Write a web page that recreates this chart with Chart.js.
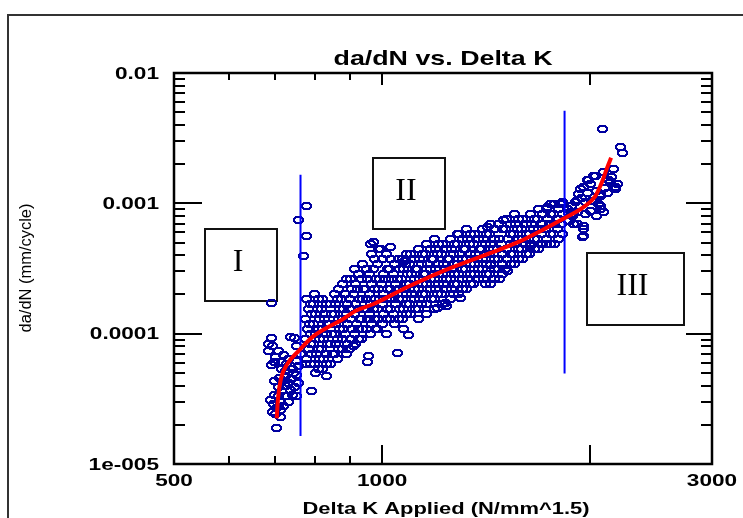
<!DOCTYPE html>
<html>
<head>
<meta charset="utf-8">
<script src="https://cdn.jsdelivr.net/npm/chart.js@4.4.0/dist/chart.umd.min.js"></script>
<style>
  html, body { margin: 0; padding: 0; background: #fff; }
  canvas { display: block; }
</style>
</head>
<body>
<canvas id="crackChart" width="743" height="518"></canvas>
<script>
// Delta K (N/mm^1.5) and da/dN (mm/cycle) measurements, grouped by stage
const stageOnePoints = [
  [692, 9.2e-5], [694, 8.1e-5], [738, 9.4e-5], [746, 9.2e-5], [751, 8.1e-5],
  [707, 7.3e-5], [719, 6.8e-5], [731, 6.4e-5], [699, 6.1e-5], [692, 5.7e-5],
  [716, 5.4e-5], [741, 5.4e-5], [751, 4.8e-5], [699, 4.3e-5], [724, 4.0e-5],
  [738, 3.7e-5], [751, 3.3e-5], [699, 3.4e-5], [714, 3.0e-5], [731, 3.0e-5],
  [704, 2.7e-5], [694, 2.5e-5], [714, 2.3e-5], [704, 1.9e-5], [724, 5.2e-5],
  [738, 4.5e-5], [758, 4.2e-5], [716, 3.6e-5], [686, 8.4e-5], [686, 7.4e-5],
  [716, 6.1e-5], [753, 6.2e-5], [761, 7.0e-5], [726, 4.7e-5], [707, 3.9e-5],
  [743, 3.4e-5], [721, 2.8e-5], [697, 2.9e-5], [702, 6.6e-5], [728, 5.8e-5],
  [745, 5.0e-5], [733, 4.2e-5], [710, 4.6e-5], [747, 3.9e-5], [725, 3.3e-5],
  [708, 3.3e-5], [690, 3.1e-5], [700, 2.4e-5], [712, 2.6e-5], [757, 5.6e-5],
  [692, 1.72e-4], [778, 9.49e-4], [758, 7.42e-4], [778, 5.6e-4], [770, 3.94e-4]
];

const stageTwoPoints = [
  [778, 1.85e-4], [782, 1.55e-4], [775, 1.30e-4], [780, 1.09e-4], [776, 9.16e-5], [783, 7.68e-5], [778, 6.44e-5], [774, 5.9e-5],
  [799, 2.02e-4], [795, 1.69e-4], [802, 1.42e-4], [797, 1.19e-4], [801, 1.0e-4], [796, 8.39e-5], [803, 7.04e-5], [798, 5.9e-5], [800, 4.95e-5],
  [821, 1.85e-4], [818, 1.55e-4], [824, 1.30e-4], [820, 1.09e-4], [823, 9.16e-5], [817, 7.68e-5], [822, 6.44e-5], [819, 5.4e-5],
  [843, 1.69e-4], [846, 1.42e-4], [840, 1.19e-4], [845, 1.0e-4], [842, 8.39e-5], [847, 7.04e-5], [841, 5.9e-5],
  [865, 2.21e-4], [862, 1.85e-4], [868, 1.55e-4], [864, 1.3e-4], [867, 1.09e-4], [861, 9.16e-5], [866, 7.68e-5], [863, 6.44e-5],
  [889, 2.63e-4], [886, 2.02e-4], [892, 1.69e-4], [888, 1.42e-4], [891, 1.19e-4], [885, 1.0e-4], [890, 8.39e-5], [887, 7.04e-5],
  [913, 3.13e-4], [916, 2.41e-4], [910, 2.02e-4], [914, 1.69e-4], [911, 1.42e-4], [917, 1.19e-4], [912, 1.0e-4], [915, 8.39e-5],
  [937, 3.42e-4], [934, 2.63e-4], [940, 2.21e-4], [936, 1.85e-4], [939, 1.55e-4], [933, 1.3e-4], [938, 1.09e-4], [935, 9.16e-5],
  [962, 4.86e-4], [966, 4.08e-4], [960, 2.87e-4], [964, 2.41e-4], [958, 2.02e-4], [963, 1.69e-4], [959, 1.42e-4], [965, 1.19e-4], [961, 1.0e-4],
  [988, 4.45e-4], [985, 3.42e-4], [991, 2.63e-4], [987, 2.21e-4], [990, 1.85e-4], [984, 1.55e-4], [989, 1.3e-4], [986, 1.09e-4],
  [1015, 4.08e-4], [1019, 3.13e-4], [1012, 2.63e-4], [1017, 2.21e-4], [1013, 1.85e-4], [1018, 1.55e-4], [1014, 1.3e-4], [1016, 1.0e-4],
  [1042, 3.42e-4], [1038, 2.87e-4], [1045, 2.41e-4], [1040, 2.02e-4], [1044, 1.69e-4], [1039, 1.42e-4], [1043, 1.19e-4],
  [1071, 3.74e-4], [1075, 3.13e-4], [1068, 2.63e-4], [1073, 2.21e-4], [1069, 1.85e-4], [1074, 1.55e-4], [1070, 1.3e-4], [1072, 1.09e-4],
  [1099, 4.08e-4], [1095, 3.42e-4], [1102, 2.87e-4], [1097, 2.41e-4], [1101, 2.02e-4], [1096, 1.69e-4], [1100, 1.42e-4],
  [1129, 4.45e-4], [1133, 3.74e-4], [1126, 3.13e-4], [1131, 2.63e-4], [1127, 2.21e-4], [1132, 1.85e-4], [1128, 1.55e-4], [1130, 1.3e-4],
  [1159, 4.86e-4], [1155, 4.08e-4], [1162, 3.42e-4], [1157, 2.87e-4], [1161, 2.41e-4], [1156, 2.02e-4], [1160, 1.69e-4], [1158, 1.42e-4],
  [1191, 5.31e-4], [1195, 4.45e-4], [1188, 3.74e-4], [1193, 3.13e-4], [1189, 2.63e-4], [1194, 2.21e-4], [1190, 1.85e-4], [1192, 1.55e-4],
  [1223, 4.86e-4], [1219, 4.08e-4], [1226, 3.42e-4], [1221, 2.87e-4], [1225, 2.41e-4], [1220, 2.02e-4], [1224, 1.69e-4],
  [1256, 5.31e-4], [1260, 4.45e-4], [1253, 3.74e-4], [1258, 3.13e-4], [1254, 2.63e-4], [1259, 2.21e-4], [1255, 1.85e-4],
  [1289, 5.8e-4], [1285, 4.86e-4], [1292, 4.08e-4], [1287, 3.42e-4], [1291, 2.87e-4], [1286, 2.41e-4], [1290, 2.02e-4],
  [1324, 6.33e-4], [1328, 5.31e-4], [1321, 4.45e-4], [1326, 3.74e-4], [1322, 3.13e-4], [1327, 2.63e-4], [1323, 2.21e-4],
  [1360, 5.8e-4], [1356, 4.86e-4], [1363, 4.08e-4], [1358, 3.42e-4], [1362, 2.87e-4], [1357, 2.41e-4],
  [1397, 6.33e-4], [1401, 5.31e-4], [1394, 4.45e-4], [1399, 3.74e-4], [1395, 3.13e-4], [1400, 2.63e-4],
  [1434, 6.91e-4], [1430, 5.8e-4], [1437, 4.86e-4], [1432, 4.08e-4], [1436, 3.42e-4], [1431, 2.87e-4], [1435, 2.41e-4],
  [1473, 6.91e-4], [1477, 5.31e-4], [1470, 4.45e-4], [1475, 3.74e-4], [1471, 3.13e-4], [1476, 2.63e-4],
  [1513, 7.55e-4], [1509, 6.33e-4], [1516, 5.31e-4], [1511, 4.45e-4], [1515, 3.74e-4], [1510, 3.13e-4],
  [1553, 8.24e-4], [1557, 6.91e-4], [1550, 5.8e-4], [1555, 4.86e-4], [1551, 4.08e-4], [1556, 3.42e-4],
  [1595, 7.55e-4], [1591, 6.33e-4], [1598, 5.31e-4], [1593, 4.45e-4], [1597, 3.74e-4],
  [1638, 8.24e-4], [1642, 6.91e-4], [1635, 5.8e-4], [1640, 4.86e-4], [1636, 4.08e-4],
  [1682, 9.0e-4], [1678, 7.55e-4], [1685, 6.33e-4], [1680, 5.31e-4], [1684, 4.45e-4],
  [1728, 9.0e-4], [1732, 7.55e-4], [1725, 6.33e-4], [1730, 5.31e-4], [1726, 4.86e-4],
  [1774, 9.83e-4], [1770, 8.24e-4], [1777, 6.91e-4], [1772, 5.8e-4], [1776, 4.86e-4],
  [1822, 9.83e-4], [1826, 8.24e-4], [1819, 6.91e-4], [1824, 5.8e-4],
  // readings between the columns above
  [788, 1.69e-4], [791, 1.42e-4], [786, 1.19e-4], [789, 1.0e-4], [787, 8.39e-5], [790, 7.04e-5], [788, 5.9e-5],
  [810, 1.85e-4], [807, 1.55e-4], [812, 1.3e-4], [809, 1.09e-4], [811, 9.16e-5], [808, 7.68e-5], [813, 6.44e-5], [810, 5.4e-5],
  [832, 1.69e-4], [829, 1.42e-4], [834, 1.19e-4], [831, 1.0e-4], [833, 8.39e-5], [830, 7.04e-5], [832, 5.9e-5],
  [854, 2.02e-4], [857, 1.69e-4], [852, 1.42e-4], [855, 1.19e-4], [853, 1.0e-4], [856, 8.39e-5], [854, 7.04e-5],
  [877, 2.41e-4], [874, 1.85e-4], [879, 1.55e-4], [876, 1.3e-4], [878, 1.09e-4], [875, 9.16e-5], [877, 7.68e-5],
  [900, 2.63e-4], [903, 2.21e-4], [898, 1.85e-4], [901, 1.55e-4], [899, 1.3e-4], [902, 1.09e-4], [900, 9.16e-5], [897, 7.68e-5],
  [925, 2.87e-4], [922, 2.21e-4], [927, 1.85e-4], [924, 1.55e-4], [926, 1.3e-4], [923, 1.09e-4], [925, 9.16e-5],
  [949, 3.13e-4], [952, 2.63e-4], [947, 2.21e-4], [950, 1.85e-4], [948, 1.55e-4], [951, 1.3e-4], [949, 1.09e-4],
  [975, 3.74e-4], [972, 3.13e-4], [977, 2.63e-4], [974, 2.21e-4], [976, 1.85e-4], [973, 1.55e-4], [975, 1.3e-4], [978, 1.09e-4],
  [1002, 3.74e-4], [1005, 2.87e-4], [999, 2.41e-4], [1003, 2.02e-4], [1000, 1.69e-4], [1004, 1.42e-4], [1001, 1.19e-4],
  [1029, 3.74e-4], [1026, 3.13e-4], [1031, 2.63e-4], [1028, 2.21e-4], [1030, 1.85e-4], [1027, 1.55e-4], [1029, 1.3e-4],
  [1056, 3.74e-4], [1059, 3.13e-4], [1054, 2.63e-4], [1057, 2.21e-4], [1055, 1.85e-4], [1058, 1.55e-4], [1056, 1.3e-4],
  [1085, 4.08e-4], [1082, 3.42e-4], [1087, 2.87e-4], [1084, 2.41e-4], [1086, 2.02e-4], [1083, 1.69e-4], [1085, 1.42e-4],
  [1114, 3.74e-4], [1117, 3.13e-4], [1112, 2.63e-4], [1115, 2.21e-4], [1113, 1.85e-4], [1116, 1.55e-4],
  [1144, 4.08e-4], [1141, 3.42e-4], [1146, 2.87e-4], [1143, 2.41e-4], [1145, 2.02e-4], [1142, 1.69e-4],
  [1175, 4.45e-4], [1178, 3.74e-4], [1173, 3.13e-4], [1176, 2.63e-4], [1174, 2.21e-4], [1177, 1.85e-4],
  [1206, 4.86e-4], [1203, 4.08e-4], [1208, 3.42e-4], [1205, 2.87e-4], [1207, 2.41e-4], [1204, 2.02e-4],
  [1239, 4.45e-4], [1242, 3.74e-4], [1237, 3.13e-4], [1240, 2.63e-4], [1238, 2.21e-4],
  [1272, 4.86e-4], [1269, 4.08e-4], [1274, 3.42e-4], [1271, 2.87e-4], [1273, 2.41e-4], [1270, 2.02e-4],
  [1307, 5.31e-4], [1310, 4.45e-4], [1305, 3.74e-4], [1308, 3.13e-4], [1306, 2.63e-4], [1309, 2.21e-4],
  [1342, 5.8e-4], [1339, 4.86e-4], [1344, 4.08e-4], [1341, 3.42e-4], [1343, 2.87e-4], [1340, 2.41e-4],
  [1378, 5.31e-4], [1381, 4.45e-4], [1376, 3.74e-4], [1379, 3.13e-4], [1377, 2.63e-4],
  [1415, 5.8e-4], [1412, 4.86e-4], [1417, 4.08e-4], [1414, 3.42e-4], [1416, 2.87e-4],
  [1453, 6.33e-4], [1456, 5.31e-4], [1451, 4.45e-4], [1454, 3.74e-4], [1452, 3.13e-4], [1455, 2.63e-4],
  [1492, 6.33e-4], [1489, 4.86e-4], [1494, 4.08e-4], [1491, 3.42e-4], [1493, 2.87e-4],
  [1533, 6.91e-4], [1536, 5.8e-4], [1531, 4.86e-4], [1534, 4.08e-4], [1532, 3.42e-4],
  [1574, 7.55e-4], [1571, 6.33e-4], [1576, 5.31e-4], [1573, 4.45e-4], [1575, 3.74e-4],
  [1616, 6.91e-4], [1619, 5.8e-4], [1614, 4.86e-4], [1617, 4.08e-4],
  [1660, 7.55e-4], [1657, 6.33e-4], [1662, 5.31e-4], [1659, 4.45e-4],
  [1705, 8.24e-4], [1708, 6.91e-4], [1703, 5.8e-4], [1706, 4.86e-4],
  [1751, 8.24e-4], [1748, 6.91e-4], [1753, 5.8e-4], [1750, 4.86e-4],
  [1798, 9.0e-4], [1801, 7.55e-4], [1796, 6.33e-4], [1799, 5.31e-4],
  // scattered readings around the band
  [1053, 7.16e-5], [956, 6.79e-5], [953, 6.11e-5], [910, 8.1e-5], [1092, 9.83e-5],
  [1202, 1.58e-4], [1239, 1.63e-4], [1298, 1.88e-4], [1235, 1.72e-4], [1518, 3.03e-4],
  [1410, 2.41e-4], [1434, 3.37e-4], [1638, 4.7e-4], [1693, 4.86e-4], [1733, 9.32e-4],
  [1497, 7.42e-4], [1420, 6.56e-4], [1285, 5.8e-4], [972, 5.04e-4], [995, 4.45e-4],
  [1029, 4.61e-4], [1077, 3.61e-4], [790, 3.6e-5], [832, 4.7e-5]
];

const stageThreePoints = [
  [2081, 3.74e-3], [2209, 2.72e-3], [2224, 2.45e-3], [2158, 1.82e-3], [2088, 1.75e-3],
  [2033, 1.61e-3], [1987, 1.52e-3], [1953, 1.33e-3], [2137, 1.47e-3], [2173, 1.33e-3],
  [1921, 1.17e-3], [2067, 1.17e-3], [2053, 9.83e-4], [2088, 8.54e-4], [2067, 9.0e-4],
  [1967, 8.24e-4], [1902, 1.02e-3], [1915, 6.91e-4], [1953, 6.33e-4], [1947, 5.5e-4],
  [1751, 9.83e-4], [1810, 9.83e-4], [1890, 8.24e-4], [1980, 1.52e-3], [2020, 1.61e-3],
  [2123, 1.52e-3], [2173, 1.28e-3], [1934, 1.28e-3], [1980, 1.21e-3], [2067, 1.13e-3],
  [1915, 1.07e-3], [1967, 1.02e-3], [2067, 9.49e-4], [1915, 8.54e-4], [1890, 6.91e-4],
  [1953, 6.67e-4], [1953, 5.6e-4], [1852, 9.0e-4], [1884, 7.96e-4], [1858, 7.29e-4],
  [1822, 1.02e-3], [2000, 1.4e-3], [2100, 1.3e-3], [2040, 1.25e-3], [1940, 1.1e-3],
  [2010, 1.05e-3], [2120, 1.2e-3], [2000, 8.8e-4], [2040, 8.0e-4], [1880, 9.5e-4],
  [1860, 8.5e-4], [2150, 1.6e-3], [2190, 1.4e-3]
];

// fitted growth curve
const fitK = [704, 707, 714, 730, 758, 794, 837, 871, 916, 972, 1088, 1215, 1420, 1585, 1693, 1822, 1953, 2033, 2081, 2116, 2144];
const fitRate = [2.24e-5, 3.19e-5, 4.53e-5, 5.9e-5, 7.42e-5, 9.49e-5, 1.13e-4, 1.26e-4, 1.5e-4, 1.69e-4, 2.28e-4,
  2.97e-4, 4.08e-4, 5.13e-4, 6.11e-4, 7.55e-4, 9.32e-4, 1.13e-3, 1.47e-3, 1.88e-3, 2.24e-3];

// stage boundaries (vertical lines)
const boundaryK = [762, 1836];
const boundaryTop = [1.66e-3, 5.13e-3];
const boundaryBottom = [1.64e-5, 4.95e-5];

// stage label boxes, corners in data units
const stageNames = ["I", "II", "III"];
const stageBoxK = [[554, 704], [969, 1231], [1980, 2733]];
const stageBoxRate = [[6.33e-4, 1.79e-4], [2.24e-3, 6.33e-4], [4.15e-4, 1.17e-4]];

// axis ticks
const xLabelValues = [500, 1000, 3000];
const xMajorTicks = [1000, 2000];
const xMinorTicks = [600, 700, 800, 900];
const yLabelValues = [1e-2, 1e-3, 1e-4, 1e-5];
const yLabelTexts = ["0.01", "0.001", "0.0001", "1e-005"];
const yDecades = [1e-5, 1e-4, 1e-3];
const yMinorSteps = [2, 3, 4, 5, 6, 7, 8, 9];

const toXY = (p) => ({ x: p[0], y: p[1] });

/*open ellipse marker, drawn pixel by pixel*/
const ringRows = [
  "..XXXXXXX..",
  ".XXXXXXXXX.",
  "XXX.....XXX",
  "XX.......XX",
  "XX.......XX",
  "XXX.....XXX",
  ".XXXXXXXXX.",
  "..XXXXXXX..",
];
const ring = document.createElement("canvas");
ring.width = 11;
ring.height = 8;
const rc = ring.getContext("2d");
rc.fillStyle = "#0000a0";
ringRows.forEach((row, r) => {
  for (let c = 0; c < row.length; c++) {
    if (row[c] === "X") rc.fillRect(c, r, 1, 1);
  }
});

function scaledText(ctx, str, x, y, font, sx, align, baseline) {
  ctx.save();
  ctx.font = font;
  ctx.textAlign = align;
  ctx.textBaseline = baseline;
  ctx.translate(x, y);
  ctx.scale(sx, 1);
  ctx.fillText(str, 0, 0);
  ctx.restore();
}

function fitText(ctx, str, x, y, font, width) {
  ctx.save();
  ctx.font = font;
  const w = ctx.measureText(str).width;
  scaledText(ctx, str, x, y, font, width / w, "center", "alphabetic");
  ctx.restore();
}

/*stage boxes behind the data*/
const stageBoxes = {
  id: "stageBoxes",
  beforeDatasetsDraw(chart) {
    const ctx = chart.ctx;
    const xs = chart.scales.x;
    const ys = chart.scales.y;
    ctx.save();
    stageNames.forEach((name, i) => {
      const x1 = Math.round(xs.getPixelForValue(stageBoxK[i][0]));
      const x2 = Math.round(xs.getPixelForValue(stageBoxK[i][1]));
      const y1 = Math.round(ys.getPixelForValue(stageBoxRate[i][0]));
      const y2 = Math.round(ys.getPixelForValue(stageBoxRate[i][1]));
      ctx.fillStyle = "#fff";
      ctx.fillRect(x1, y1, x2 - x1, y2 - y1);
      ctx.strokeStyle = "#111";
      ctx.lineWidth = 2;
      ctx.strokeRect(x1, y1, x2 - x1, y2 - y1);
      ctx.fillStyle = "#000";
      ctx.font = '32px "Liberation Serif"';
      ctx.textAlign = "center";
      ctx.textBaseline = "middle";
      ctx.fillText(name, (x1 + x2) / 2 - 3, (y1 + y2) / 2 - 2);
    });
    ctx.restore();
    // keep the markers crisp
    ctx.imageSmoothingEnabled = false;
  },
  afterDatasetsDraw(chart) {
    chart.ctx.imageSmoothingEnabled = true;
  },
};

/*frame, inward ticks, labels and titles*/
const axesFrame = {
  id: "axesFrame",
  afterDraw(chart) {
    const ctx = chart.ctx;
    const a = chart.chartArea;
    const xs = chart.scales.x;
    const ys = chart.scales.y;
    ctx.save();

    // outer border
    ctx.strokeStyle = "#333";
    ctx.lineWidth = 2;
    ctx.beginPath();
    ctx.moveTo(8, 518);
    ctx.lineTo(8, 15);
    ctx.lineTo(743, 15);
    ctx.stroke();

    ctx.strokeStyle = "#000";
    ctx.lineWidth = 2.5;
    ctx.strokeRect(a.left, a.top, a.right - a.left, a.bottom - a.top);

    ctx.lineWidth = 2;
    ctx.beginPath();
    const vTick = (v, major) => {
      const px = Math.round(xs.getPixelForValue(v));
      ctx.moveTo(px, a.bottom);
      ctx.lineTo(px, a.bottom - (major ? 19 : 8));
      ctx.moveTo(px, a.top);
      ctx.lineTo(px, a.top + (major ? 12 : 7));
    };
    xMajorTicks.forEach((v) => vTick(v, true));
    xMinorTicks.forEach((v) => vTick(v, false));
    const hTick = (v, major) => {
      const py = Math.round(ys.getPixelForValue(v));
      ctx.moveTo(a.left, py);
      ctx.lineTo(a.left + (major ? 28 : 11), py);
      ctx.moveTo(a.right, py);
      ctx.lineTo(a.right - (major ? 26 : 11), py);
    };
    yLabelValues.forEach((v) => hTick(v, true));
    yDecades.forEach((d) => yMinorSteps.forEach((m) => hTick(d * m, false)));
    ctx.stroke();

    ctx.fillStyle = "#000";
    const tickFont = 'bold 17px "Liberation Sans"';
    yLabelValues.forEach((v, i) => {
      scaledText(ctx, yLabelTexts[i], a.left - 15, ys.getPixelForValue(v) + 1, tickFont, 1.33, "right", "middle");
    });
    xLabelValues.forEach((v) => {
      scaledText(ctx, String(v), xs.getPixelForValue(v), a.bottom + 17, tickFont, 1.33, "center", "middle");
    });

    fitText(ctx, "da/dN vs. Delta K", 443, 65, 'bold 21px "Liberation Sans"', 219);
    fitText(ctx, "Delta K Applied (N/mm^1.5)", 446, 514, 'bold 17px "Liberation Sans"', 287);

    ctx.save();
    ctx.translate(31, 268);
    ctx.rotate(-Math.PI / 2);
    fitText(ctx, "da/dN (mm/cycle)", 0, 0, '16px "Liberation Sans"', 129);
    ctx.restore();

    ctx.restore();
  },
};

const ctx = document.getElementById("crackChart").getContext("2d");

const boundaryData = boundaryK.map((k, i) => [
  { x: k, y: boundaryTop[i] },
  { x: k, y: boundaryBottom[i] },
]);

new Chart(ctx, {
  type: "scatter",
  data: {
    datasets: [
      {
        label: "da/dN",
        data: stageOnePoints.concat(stageTwoPoints, stageThreePoints).map(toXY),
        pointStyle: ring,
        showLine: false,
        order: 3,
      },
      ...boundaryData.map((d) => ({
        type: "line",
        data: d,
        borderColor: "#0000ff",
        borderWidth: 2,
        pointRadius: 0,
        order: 2,
      })),
      {
        type: "line",
        label: "fit",
        data: fitK.map((k, i) => ({ x: k, y: fitRate[i] })),
        borderColor: "#ff0000",
        borderWidth: 4,
        pointRadius: 0,
        cubicInterpolationMode: "monotone",
        order: 1,
      },
    ],
  },
  options: {
    responsive: false,
    animation: false,
    devicePixelRatio: 1,
    layout: { padding: { left: 174, top: 73, right: 31, bottom: 54 } },
    scales: {
      x: { type: "logarithmic", min: 500, max: 3000, display: false },
      y: { type: "logarithmic", min: 1e-5, max: 1e-2, display: false },
    },
    plugins: { legend: { display: false }, tooltip: { enabled: false } },
  },
  plugins: [stageBoxes, axesFrame],
});
</script>
</body>
</html>
